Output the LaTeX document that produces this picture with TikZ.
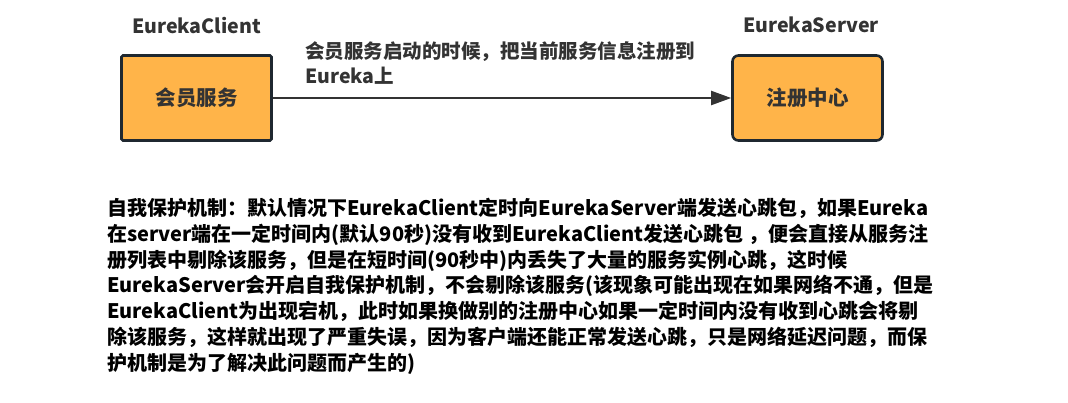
\documentclass[tikz,border=0pt]{standalone}
\usepackage{fontspec}
\setmainfont{Noto Sans CJK SC}
\usetikzlibrary{arrows.meta}
\definecolor{boxfill}{HTML}{FFB449}
\definecolor{boxline}{HTML}{1F2830}
\definecolor{txt}{HTML}{333333}
\tikzset{
  svc/.style={draw=boxline, fill=boxfill, line width=2.6pt, minimum width=150pt, minimum height=85pt, inner sep=0pt, font=\fontsize{20.5}{24}\selectfont\bfseries, text=txt},
  title/.style={font=\fontsize{19.6}{22}\selectfont\bfseries, text=txt, inner sep=0pt},
  note/.style={font=\fontsize{19.5}{25}\selectfont\bfseries, text=txt, inner sep=0pt, align=left},
  conn/.style={draw=txt, line width=2pt, -{Triangle[length=20pt,width=14pt]}}
}
\begin{document}
\begin{tikzpicture}[x=1pt,y=-1pt]
\useasboundingbox (0,0) rectangle (1068,402);
\node[svc, rounded corners=1.5pt] (client) at (196.5,98) {会员服务};
\node[svc, rounded corners=6pt] (server) at (807.5,98) {注册中心};
\node[title] (clientlbl) at (196.5,25) {EurekaClient};
\node[title] (serverlbl) at (811,25) {EurekaServer};
\draw[conn] (client) -- (server);
\node[note, anchor=north west] (msg) at (305,41) {会员服务启动的时候，把当前服务信息注册到\\Eureka上};
\node[note, anchor=north west, text=black, font=\fontsize{20}{25.8}\selectfont\bfseries] (body) at (107,198) {自我保护机制：默认情况下EurekaClient定时向EurekaServer端发送心跳包，如果Eureka\\
在server端在一定时间内(默认90秒)没有收到EurekaClient发送心跳包 ，便会直接从服务注\\
册列表中剔除该服务，但是在短时间(90秒中)内丢失了大量的服务实例心跳，这时候\\
EurekaServer会开启自我保护机制，不会剔除该服务(该现象可能出现在如果网络不通，但是\\
EurekaClient为出现宕机，此时如果换做别的注册中心如果一定时间内没有收到心跳会将剔\\
除该服务，这样就出现了严重失误，因为客户端还能正常发送心跳，只是网络延迟问题，而保\\
护机制是为了解决此问题而产生的)};
\end{tikzpicture}
\end{document}
